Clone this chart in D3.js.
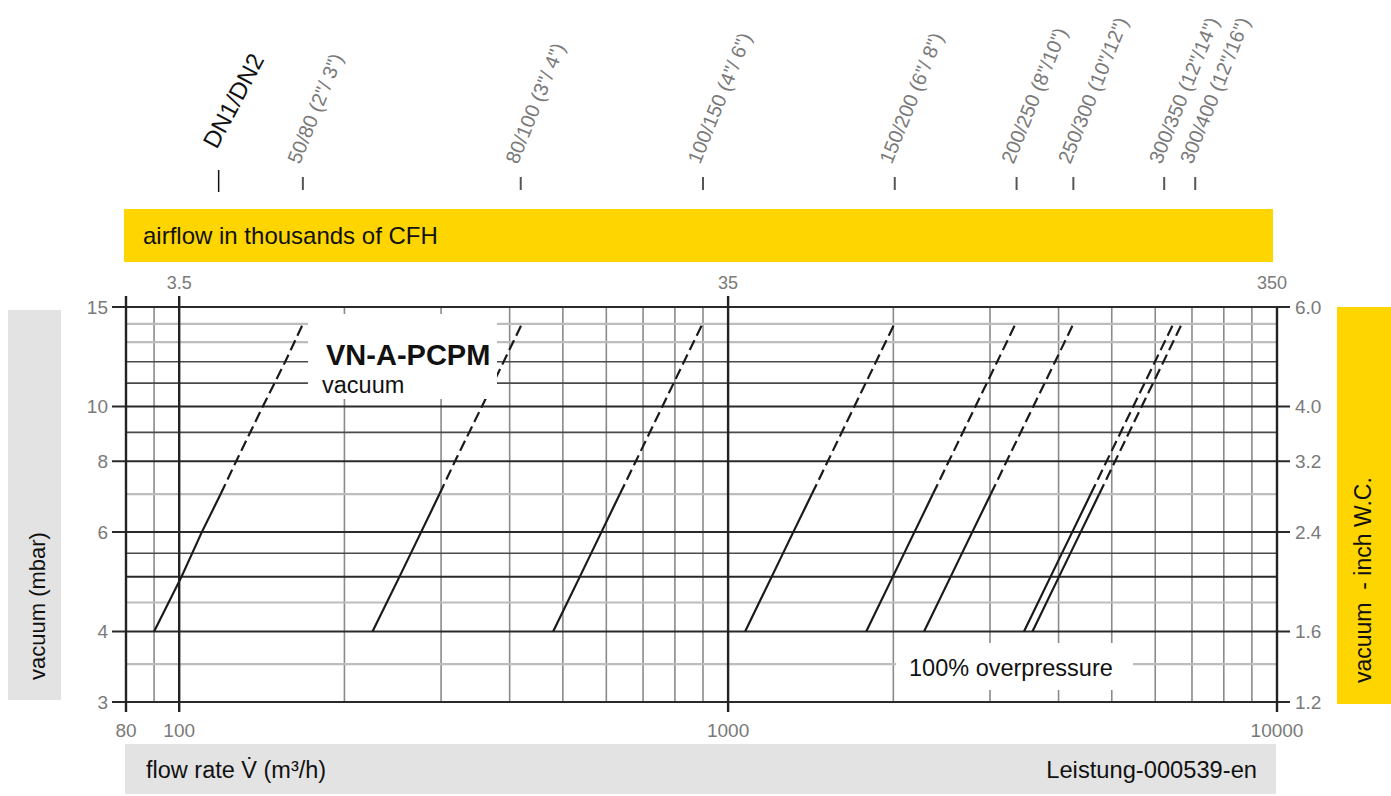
<!DOCTYPE html>
<html><head><meta charset="utf-8">
<script src="https://cdn.jsdelivr.net/npm/d3@7"></script>
<style>body{margin:0;background:#fff;} svg{display:block;font-family:"Liberation Sans",Arial,Helvetica,sans-serif;}</style>
</head><body><svg id="c" width="1391" height="796"></svg>
<script>
// ---------- data ----------
const xTickValues = [80, 100, 1000, 10000];
const xTickLabels = ["80", "100", "1000", "10000"];
const xGridMajor = [80, 100, 1000, 10000];
const xGridMinor = [90, 200, 300, 400, 500, 600, 700, 800, 900, 2000, 3000, 4000, 5000, 6000, 7000, 8000, 9000];
const topFlowValues = [100, 1000, 10000];
const topFlowLabels = ["3.5", "35", "350"];
const yTickValues = [3, 4, 6, 8, 10, 15];
const yLeftLabels = ["3", "4", "6", "8", "10", "15"];
const yRightLabels = ["1.2", "1.6", "2.4", "3.2", "4.0", "6.0"];
const yGridDark = [3, 4, 5, 6, 8, 10, 15];
const yGridMid = [5.5, 9, 11, 12];
const yGridLight = [3.5, 4.5, 7, 13, 14];

const pressures = [4, 5, 6, 7, 8, 10, 12, 14];   // mbar
const solidUpTo = 7;                                // solid below, dashed above
const flowDN50_80   = [90, 101, 110, 119, 127, 142, 156, 168];
const flowDN80_100  = [225, 252, 276, 298, 318, 356, 390, 421];
const flowDN100_150 = [480, 537, 588, 635, 679, 759, 831, 898];
const flowDN150_200 = [1074, 1201, 1315, 1421, 1519, 1698, 1860, 2009];
const flowDN200_250 = [1785, 1996, 2186, 2361, 2524, 2822, 3092, 3339];
const flowDN250_300 = [2275, 2544, 2786, 3010, 3217, 3597, 3941, 4256];
const flowDN300_350 = [3460, 3868, 4238, 4577, 4893, 5471, 5993, 6473];
const flowDN300_400 = [3585, 4008, 4391, 4743, 5070, 5668, 6210, 6707];

const dnLabels = ["50/80 (2\"/ 3\")", "80/100 (3\"/ 4\")", "100/150 (4\"/ 6\")", "150/200 (6\"/ 8\")",
                  "200/250 (8\"/10\")", "250/300 (10\"/12\")", "300/350 (12\"/14\")", "300/400 (12\"/16\")"];
const dnTickFlows = [168, 419, 900, 2012, 3354, 4256, 6230, 7096];
const dnHeaderFlow = 118;

const seriesList = [flowDN50_80, flowDN80_100, flowDN100_150, flowDN150_200,
                    flowDN200_250, flowDN250_300, flowDN300_350, flowDN300_400];

// ---------- drawing ----------
const svg = d3.select("#c");
const x = d3.scaleLog().domain([80, 10000]).range([126, 1277]);
const y = d3.scaleLog().domain([3, 15]).range([702, 307]);
const YELLOW = "#FFD500", GREY = "#E3E3E3", TXT = "#7a7a7a";

// bands
svg.append("rect").attr("x", 124).attr("y", 209).attr("width", 1149).attr("height", 53).attr("fill", YELLOW);
svg.append("text").attr("x", 143).attr("y", 244).attr("font-size", 24).attr("fill", "#111").text("airflow in thousands of CFH");
svg.append("rect").attr("x", 125).attr("y", 744).attr("width", 1151).attr("height", 50).attr("fill", GREY);
svg.append("text").attr("x", 146).attr("y", 778).attr("font-size", 23.5).attr("fill", "#111").text("flow rate V\u0307 (m\u00B3/h)");
svg.append("text").attr("x", 1257).attr("y", 778).attr("font-size", 23.7).attr("fill", "#111").attr("text-anchor", "end").text("Leistung-000539-en");
svg.append("rect").attr("x", 8).attr("y", 310).attr("width", 53).attr("height", 390).attr("fill", GREY);
svg.append("text").attr("transform", "translate(45,680) rotate(-90)").attr("font-size", 22).attr("fill", "#111").text("vacuum (mbar)");
svg.append("rect").attr("x", 1337).attr("y", 307).attr("width", 54).attr("height", 397).attr("fill", YELLOW);
svg.append("text").attr("transform", "translate(1371,683) rotate(-90)").attr("font-size", 23).attr("fill", "#111")
  .attr("xml:space", "preserve").style("white-space", "pre").text("vacuum  - inch W.C.");

// grid
const g = svg.append("g");
g.selectAll(".vmin").data(xGridMinor).join("line")
  .attr("x1", d => x(d)).attr("x2", d => x(d)).attr("y1", y(15)).attr("y2", y(3))
  .attr("stroke", "#8a8a8a").attr("stroke-width", 1.6);
g.selectAll(".hl").data(yGridLight).join("line")
  .attr("x1", x(80)).attr("x2", x(10000)).attr("y1", d => y(d)).attr("y2", d => y(d))
  .attr("stroke", "#bdbdbd").attr("stroke-width", 2.2);
g.selectAll(".hm").data(yGridMid).join("line")
  .attr("x1", x(80)).attr("x2", x(10000)).attr("y1", d => y(d)).attr("y2", d => y(d))
  .attr("stroke", "#4a4a4a").attr("stroke-width", 1.6);
g.selectAll(".hd").data(yGridDark).join("line")
  .attr("x1", d => yTickValues.includes(d) ? x(80) - 14 : x(80))
  .attr("x2", d => yTickValues.includes(d) ? x(10000) + 13 : x(10000))
  .attr("y1", d => y(d)).attr("y2", d => y(d))
  .attr("stroke", "#2a2a2a").attr("stroke-width", 2);
g.selectAll(".vmaj").data(xGridMajor).join("line")
  .attr("x1", d => x(d)).attr("x2", d => x(d))
  .attr("y1", d => d === 10000 ? y(15) : y(15) - 11).attr("y2", y(3) + 10)
  .attr("stroke", "#222").attr("stroke-width", 2.4);

// tick labels
svg.selectAll(".lt").data(yTickValues).join("text")
  .attr("x", 108).attr("y", d => y(d)).attr("dy", "0.36em").attr("text-anchor", "end")
  .attr("font-size", 19).attr("fill", TXT).text((d, i) => yLeftLabels[i]);
svg.selectAll(".rt").data(yTickValues).join("text")
  .attr("x", 1295).attr("y", d => y(d)).attr("dy", "0.36em")
  .attr("font-size", 19).attr("fill", TXT).text((d, i) => yRightLabels[i]);
svg.selectAll(".bt").data(xTickValues).join("text")
  .attr("x", d => x(d)).attr("y", 737).attr("text-anchor", "middle")
  .attr("font-size", 19).attr("fill", TXT).text((d, i) => xTickLabels[i]);
svg.selectAll(".tt").data(topFlowValues).join("text")
  .attr("x", (d, i) => x(d) - (i === 2 ? 5 : 0)).attr("y", 289).attr("text-anchor", "middle")
  .attr("font-size", 18).attr("fill", TXT).text((d, i) => topFlowLabels[i]);

// curves
const line = d3.line().x(d => x(d[1])).y(d => y(d[0]));
seriesList.forEach(flows => {
  const pts = pressures.map((p, i) => [p, flows[i]]);
  const solid = pts.filter(d => d[0] <= solidUpTo);
  const dashed = pts.filter(d => d[0] >= solidUpTo);
  svg.append("path").attr("d", line(solid)).attr("fill", "none").attr("stroke", "#1a1a1a").attr("stroke-width", 2.2);
  svg.append("path").attr("d", line(dashed)).attr("fill", "none").attr("stroke", "#1a1a1a").attr("stroke-width", 2.2)
    .attr("stroke-dasharray", "11,5");
});

// label boxes (cover grid and curves)
svg.append("rect").attr("x", 308).attr("y", 314).attr("width", 189).attr("height", 85).attr("fill", "#fff");
svg.append("text").attr("x", 326).attr("y", 365).attr("font-size", 29).attr("font-weight", "bold").attr("fill", "#111").text("VN-A-PCPM");
svg.append("text").attr("x", 322).attr("y", 393).attr("font-size", 23.5).attr("fill", "#111").text("vacuum");
svg.append("rect").attr("x", 896).attr("y", 643).attr("width", 237).attr("height", 47).attr("fill", "#fff");
svg.append("text").attr("x", 909).attr("y", 676).attr("font-size", 23.5).attr("fill", "#111").text("100% overpressure");

// DN header labels
svg.append("line").attr("x1", x(dnHeaderFlow)).attr("x2", x(dnHeaderFlow)).attr("y1", 170).attr("y2", 192)
  .attr("stroke", "#111").attr("stroke-width", 1.5);
svg.append("text").attr("transform", `translate(${x(dnHeaderFlow) - 2},150) rotate(-62)`)
  .attr("font-size", 24).attr("fill", "#111").text("DN1/DN2");
svg.selectAll(".dnt").data(dnTickFlows).join("line")
  .attr("x1", d => x(d)).attr("x2", d => x(d)).attr("y1", 177).attr("y2", 190)
  .attr("stroke", "#555").attr("stroke-width", 2);
svg.selectAll(".dnl").data(dnTickFlows).join("text")
  .attr("transform", d => `translate(${x(d) - 3},165) rotate(-68)`)
  .attr("font-size", 20).attr("fill", TXT).text((d, i) => dnLabels[i]);
</script></body></html>
